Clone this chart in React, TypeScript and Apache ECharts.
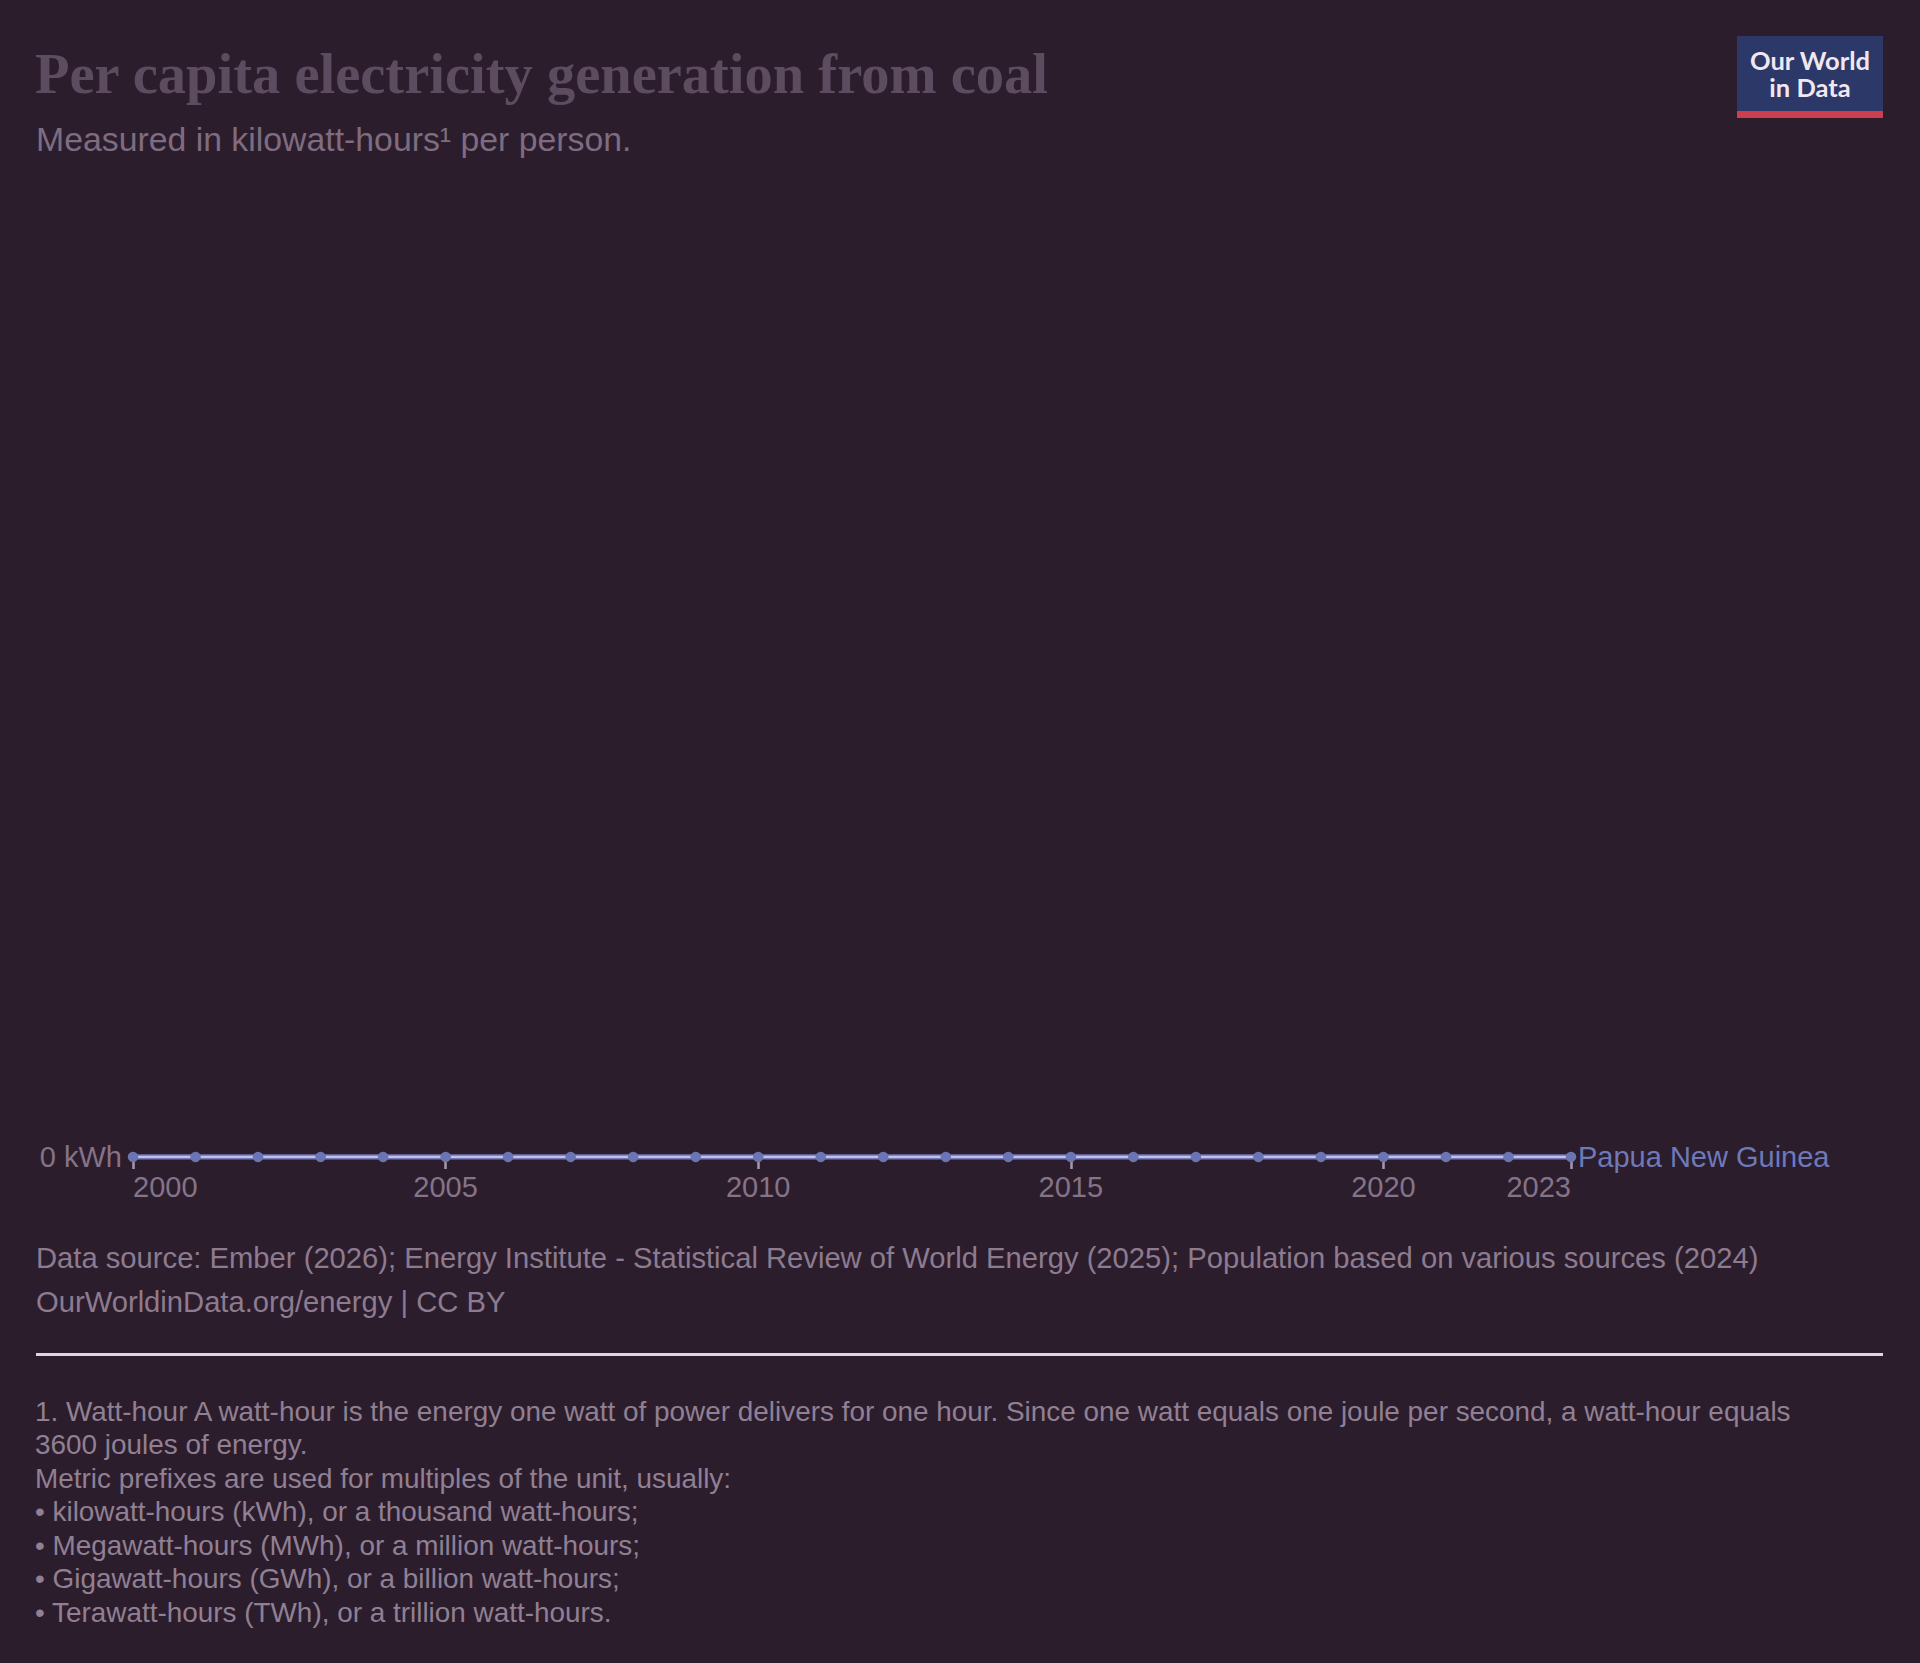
import React, { useEffect, useRef } from "react";
import * as echarts from "echarts";

const years = [2000, 2001, 2002, 2003, 2004, 2005, 2006, 2007, 2008, 2009, 2010, 2011, 2012, 2013, 2014, 2015, 2016, 2017, 2018, 2019, 2020, 2021, 2022, 2023];
const papuaValues = [0, 0, 0, 0, 0, 0, 0, 0, 0, 0, 0, 0, 0, 0, 0, 0, 0, 0, 0, 0, 0, 0, 0, 0];
const xTickYears = [2000, 2005, 2010, 2015, 2020, 2023];
const seriesName = "Papua New Guinea";
const titleText = "Per capita electricity generation from coal";
const subtitleText = "Measured in kilowatt-hours\u00B9 per person.";
const sourceText = "Data source: Ember (2026); Energy Institute - Statistical Review of World Energy (2025); Population based on various sources (2024)";
const urlText = "OurWorldinData.org/energy | CC BY";
const noteLines = [
  "1. Watt-hour A watt-hour is the energy one watt of power delivers for one hour. Since one watt equals one joule per second, a watt-hour equals",
  "3600 joules of energy.",
  "Metric prefixes are used for multiples of the unit, usually:",
  "\u2022 kilowatt-hours (kWh), or a thousand watt-hours;",
  "\u2022 Megawatt-hours (MWh), or a million watt-hours;",
  "\u2022 Gigawatt-hours (GWh), or a billion watt-hours;",
  "\u2022 Terawatt-hours (TWh), or a trillion watt-hours.",
];

const BG = "#2c1d2d";
const SANS = "'Liberation Sans', Arial, Helvetica, sans-serif";
const SERIF = "'Liberation Serif', 'Times New Roman', serif";

export default function App() {
  const ref = useRef<HTMLDivElement>(null);

  useEffect(() => {
    if (!ref.current) return;
    const chart = echarts.init(ref.current, undefined, { renderer: "svg" });
    const data = years.map((y, i) => [y, papuaValues[i]]);

    const graphics: any[] = [
      {
        type: "text",
        x: 35,
        y: 74,
        style: { text: titleText, font: `bold 56.5px ${SERIF}`, fill: "#5d4b60", verticalAlign: "middle" },
      },
      {
        type: "text",
        x: 36,
        y: 139,
        style: { text: subtitleText, font: `33.8px ${SANS}`, fill: "#7e6c80", verticalAlign: "middle" },
      },
      // logo
      { type: "rect", shape: { x: 1737, y: 36, width: 146, height: 76 }, style: { fill: "#2c3867" } },
      { type: "rect", shape: { x: 1737, y: 111, width: 146, height: 7 }, style: { fill: "#ce3f4d" } },
      {
        type: "text",
        x: 1810,
        y: 60,
        style: { text: "Our World", font: `bold 25.5px Lato, ${SANS}`, fill: "#f1e7f1", align: "center", verticalAlign: "middle" },
      },
      {
        type: "text",
        x: 1810,
        y: 87,
        style: { text: "in Data", font: `bold 25.5px Lato, ${SANS}`, fill: "#f1e7f1", align: "center", verticalAlign: "middle" },
      },
      {
        type: "text",
        x: 36,
        y: 1258,
        style: { text: sourceText, font: `29.2px ${SANS}`, fill: "#8d7b8f", verticalAlign: "middle" },
      },
      {
        type: "text",
        x: 36,
        y: 1302,
        style: { text: urlText, font: `29.2px ${SANS}`, fill: "#8d7b8f", verticalAlign: "middle" },
      },
      { type: "rect", shape: { x: 36, y: 1353, width: 1847, height: 3 }, style: { fill: "#e4d3e4" } },
    ];
    noteLines.forEach((line, i) => {
      graphics.push({
        type: "text",
        x: 35,
        y: 1411 + i * 33.5,
        style: { text: line, font: `27.9px ${SANS}`, fill: "#918093", verticalAlign: "middle" },
      });
    });

    chart.setOption({
      animation: false,
      backgroundColor: BG,
      grid: { left: 133, right: 349, top: 180, bottom: 506, containLabel: false },
      xAxis: {
        type: "value",
        min: 2000,
        max: 2023,
        splitLine: { show: false },
        axisLine: { show: false },
        axisTick: {
          show: true,
          length: 12,
          customValues: xTickYears,
          lineStyle: { color: "#a898aa", width: 2.5 },
        },
        axisLabel: {
          customValues: xTickYears,
          formatter: (v: number) => String(v),
          color: "#857387",
          fontSize: 29,
          fontFamily: SANS,
          margin: 15,
          alignMinLabel: "left",
          alignMaxLabel: "right",
        },
      },
      yAxis: {
        type: "value",
        min: 0,
        max: 1,
        interval: 1,
        splitLine: { show: false },
        axisLine: { show: false },
        axisTick: { show: false },
        axisLabel: {
          formatter: (v: number) => (v === 0 ? "0 kWh" : ""),
          color: "#857387",
          fontSize: 29,
          fontFamily: SANS,
          margin: 11,
        },
      },
      series: [
        {
          type: "line",
          name: seriesName + " band",
          data,
          showSymbol: false,
          silent: true,
          lineStyle: { color: "#6b75b3", width: 5.5 },
          z: 2,
        },
        {
          type: "line",
          name: seriesName,
          data,
          symbol: "circle",
          symbolSize: 10.5,
          showSymbol: true,
          itemStyle: { color: "#6b75b3" },
          lineStyle: { color: "#c4bfe8", width: 2.5 },
          z: 3,
          endLabel: {
            show: true,
            formatter: seriesName,
            color: "#6e79b9",
            fontSize: 29,
            fontFamily: SANS,
            distance: 7,
          },
        },
      ],
      graphic: graphics,
    });

    return () => chart.dispose();
  }, []);

  return (
    <div
      ref={ref}
      style={{ position: "absolute", left: 0, top: 0, width: 1920, height: 1663, background: BG }}
    />
  );
}
